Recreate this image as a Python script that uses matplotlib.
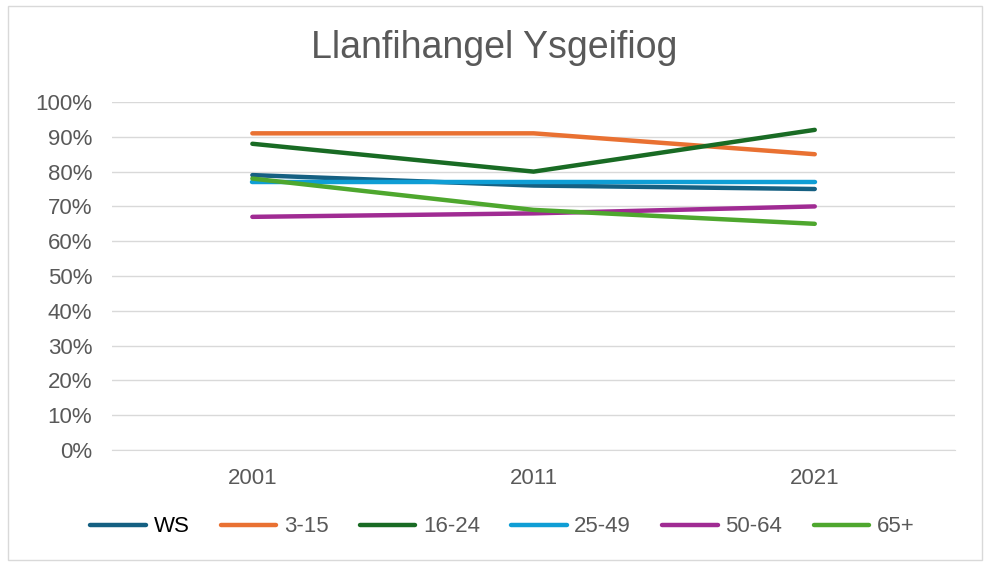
import matplotlib.pyplot as plt
from matplotlib.ticker import PercentFormatter

plt.rcParams['font.family'] = ['Liberation Sans', 'DejaVu Sans']

# data
years = ['2001', '2011', '2021']
ws = [79, 76, 75]
age_3_15 = [91, 91, 85]
age_16_24 = [88, 80, 92]
age_25_49 = [77, 77, 77]
age_50_64 = [67, 68, 70]
age_65_plus = [78, 69, 65]

series = [
    ('WS', ws, '#156082'),
    ('3-15', age_3_15, '#E97132'),
    ('16-24', age_16_24, '#196B24'),
    ('25-49', age_25_49, '#0F9ED5'),
    ('50-64', age_50_64, '#A02B93'),
    ('65+', age_65_plus, '#4EA72E'),
]

fig = plt.figure(figsize=(9.89, 5.63), dpi=100)
ax = fig.add_axes([0.113, 0.2007, 0.853, 0.6181])

x = range(len(years))
for name, vals, col in series:
    ax.plot(x, vals, color=col, lw=3.2, solid_capstyle='round', label=name)

ax.set_xlim(-0.5, 2.5)
ax.set_ylim(0, 100)
ax.set_yticks(range(0, 101, 10))
ax.yaxis.set_major_formatter(PercentFormatter(decimals=0))
ax.set_xticks(list(x))
ax.set_xticklabels(years)
ax.grid(axis='y', color='#d9d9d9', lw=1)
ax.set_axisbelow(True)
for s in ['top', 'right', 'left']:
    ax.spines[s].set_visible(False)
ax.spines['bottom'].set_color('#d9d9d9')
ax.tick_params(length=0, labelsize=16, labelcolor='#595959')
ax.tick_params(axis='x', pad=13)
ax.tick_params(axis='y', pad=14)

fig.text(0.5, 0.915, 'Llanfihangel Ysgeifiog', ha='center', va='center',
         fontsize=27, color='#595959')

leg = fig.legend(loc='center', bbox_to_anchor=(0.508, 0.064), ncol=6, frameon=False,
                 fontsize=16, handlelength=2.5, columnspacing=1.4, handletextpad=0.35)
for t in leg.get_texts():
    t.set_color('#595959')
leg.get_texts()[0].set_color('black')
for h in leg.legend_handles:
    h.set_linewidth(3.2)

# chart border
fig.patches.append(plt.Rectangle((0.008, 0.005), 0.985, 0.985, transform=fig.transFigure,
                                 fill=False, edgecolor='#d9d9d9', lw=1))

fig.savefig('out.png', dpi=100)
